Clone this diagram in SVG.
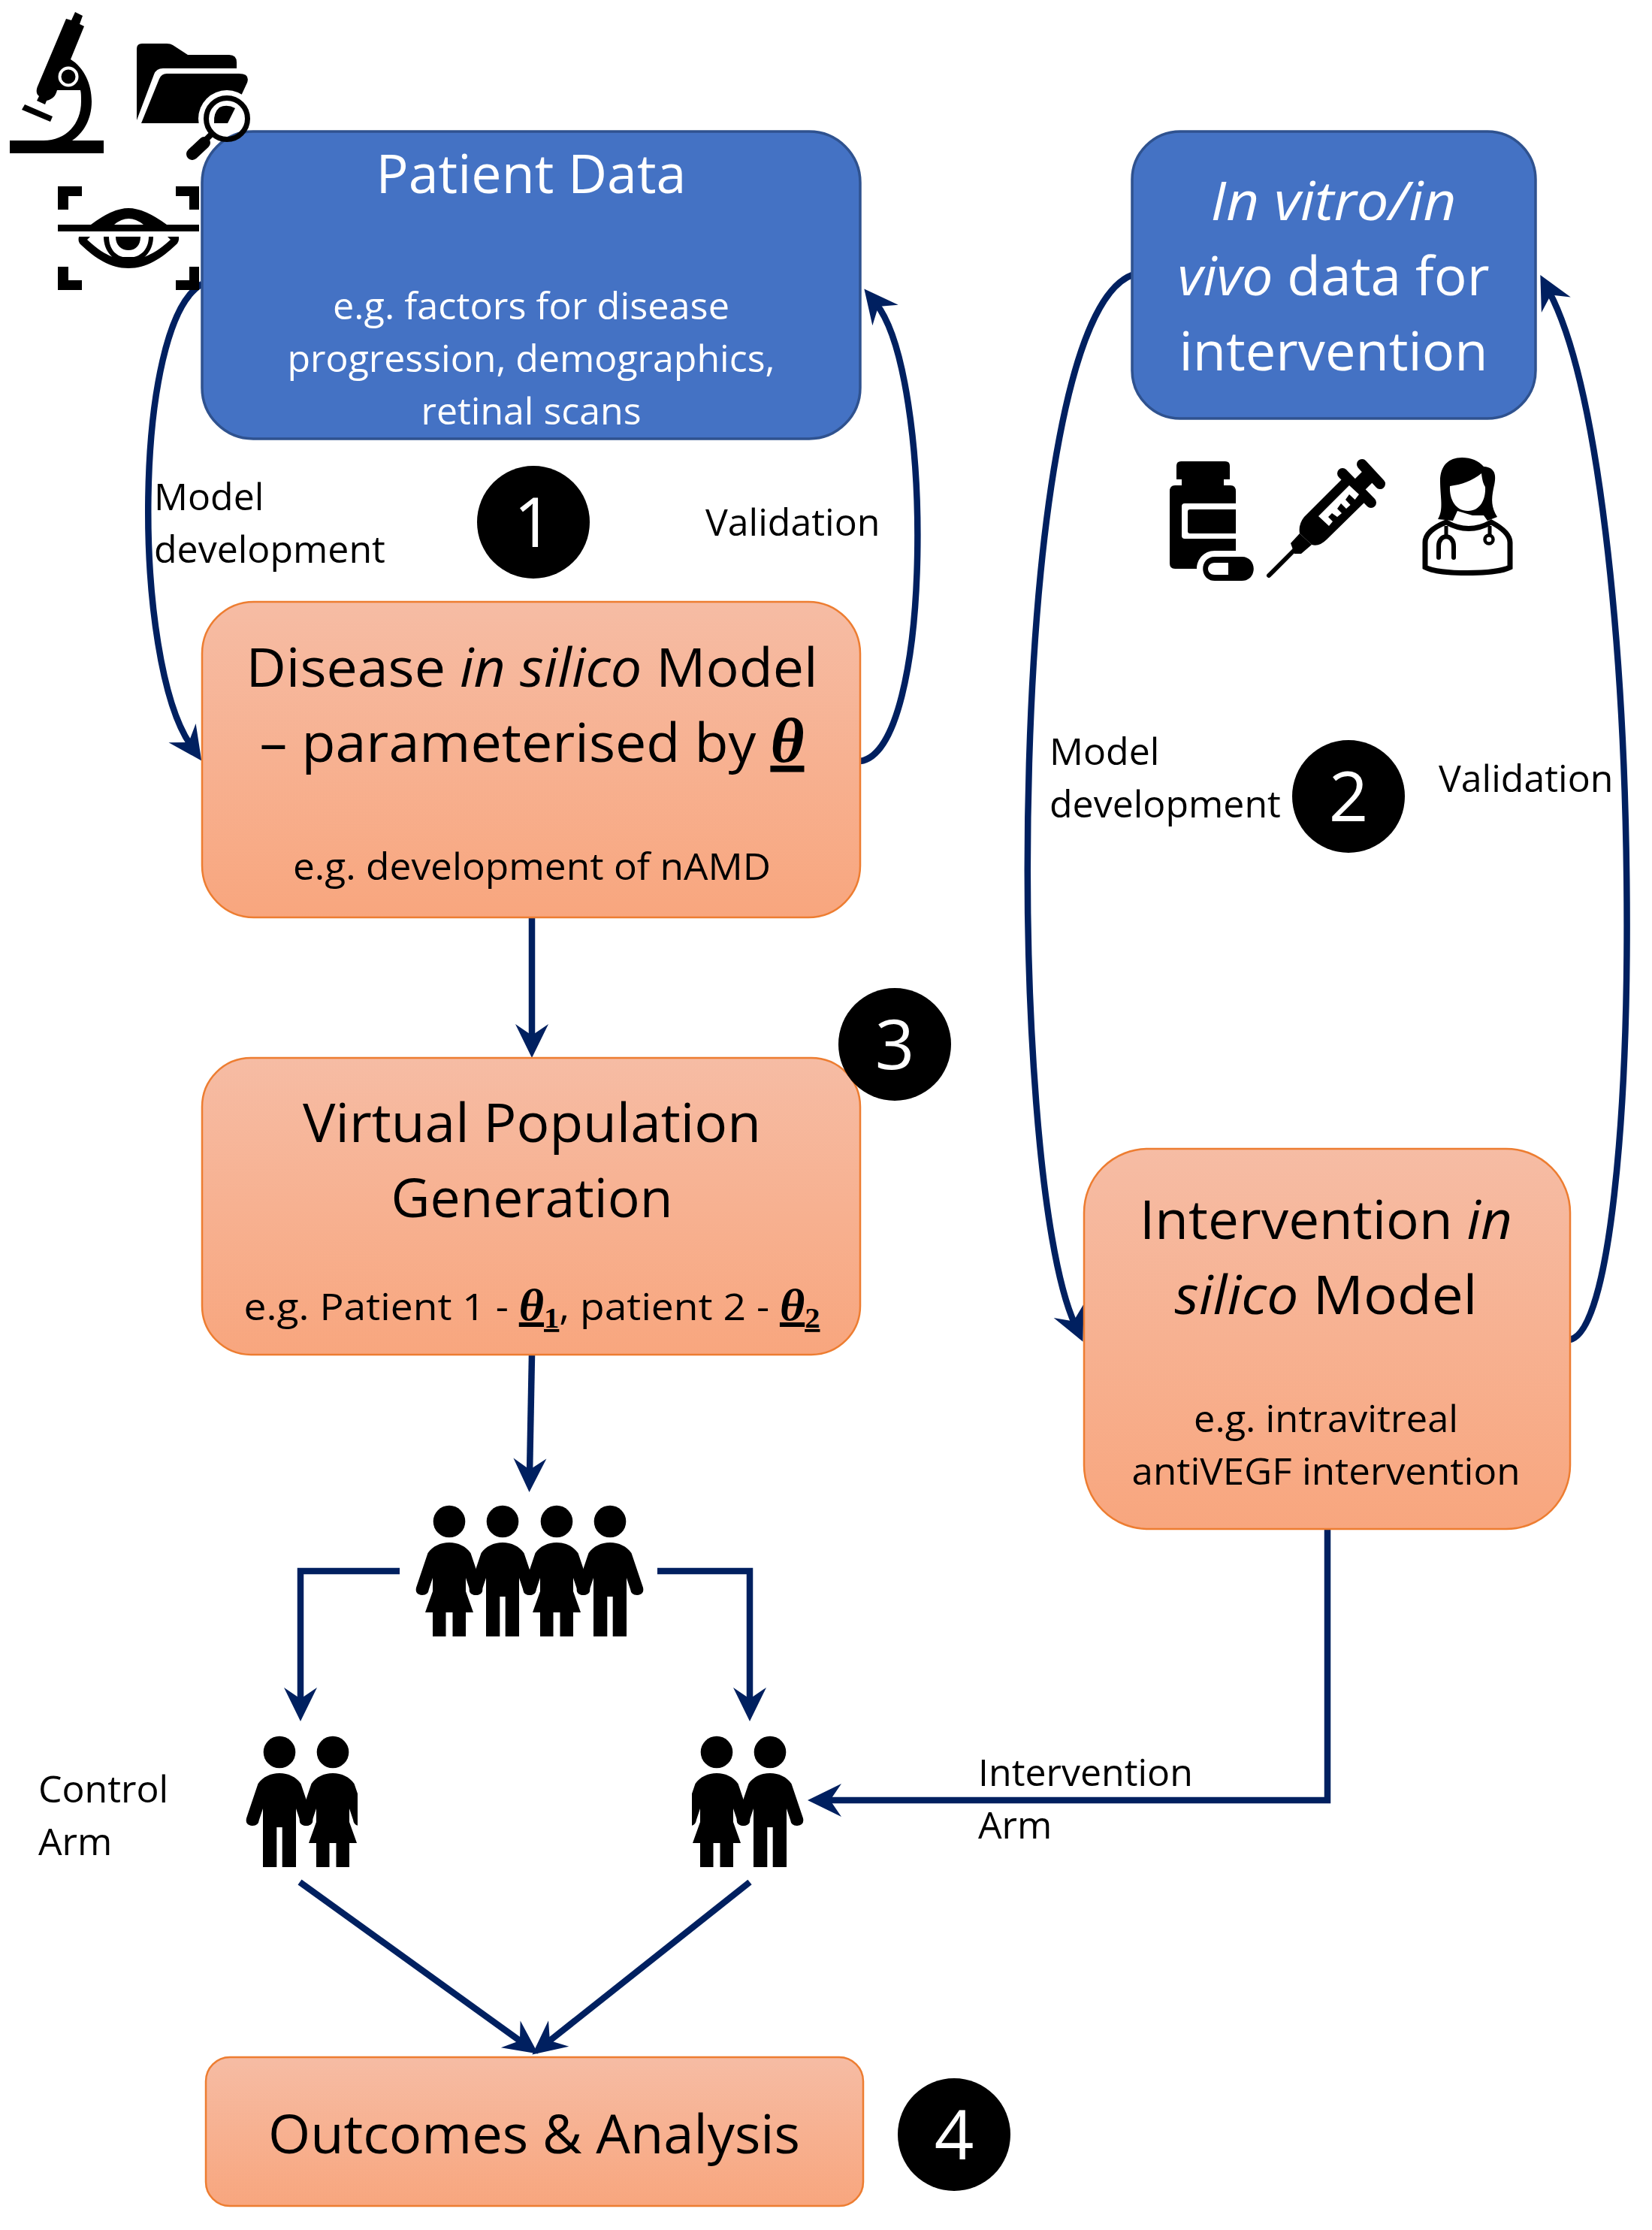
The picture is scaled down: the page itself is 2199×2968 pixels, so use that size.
<svg xmlns="http://www.w3.org/2000/svg" xmlns:xlink="http://www.w3.org/1999/xlink" width="2199" height="2968" viewBox="0 0 2199 2968">
<style>
text{font-family:"Open Sans","Noto Sans","Liberation Sans",sans-serif;fill:#000}
.t{font-size:72px;text-anchor:middle}
.s{font-size:50px;text-anchor:middle}
.l{font-size:50px}
.w{fill:#fff}
.o{fill:url(#og);stroke:#ED7D31;stroke-width:2.5}
.b{fill:#4472C4;stroke:#2F528F;stroke-width:3.5}
.c{fill:none;stroke:#002060;stroke-width:8.5;marker-end:url(#a)}
.th{font-family:"Liberation Serif","DejaVu Serif",serif;font-weight:bold;font-style:italic;text-decoration:underline}
.sb{font-size:38px;font-style:normal}
.n{font-size:92px;text-anchor:middle;fill:#fff}
</style>
<defs>
<linearGradient id="og" x1="0" y1="0" x2="0" y2="1"><stop offset="0" stop-color="#F6BCA4"/><stop offset="1" stop-color="#F8A67E"/></linearGradient>
<marker id="a" markerUnits="userSpaceOnUse" markerWidth="60" markerHeight="60" viewBox="-50 -30 60 60" refX="-25" refY="0" orient="auto"><path d="M0 0L-45 -22L-30 0L-45 22Z" fill="#002060"/></marker>
<mask id="halo" maskUnits="userSpaceOnUse" x="0" y="0" width="500" height="400"><rect width="500" height="400" fill="#fff"/><circle cx="302" cy="158" r="38" fill="#000"/></mask>
<clipPath id="cl1"><rect x="300" y="2290" width="176" height="210"/></clipPath>
<clipPath id="cl2"><rect x="921" y="2290" width="160" height="210"/></clipPath>
<g id="woman"><circle cx="0" cy="0" r="21.3"/><path d="M0 28C12 28 22 33 28.5 42L44 88Q46 97 36 98Q28 98 27 90L22 75L22 93L32 121L22 121L22 153L4.5 153L4.5 121L-4.5 121L-4.5 153L-22 153L-22 121L-32 121L-22 93L-22 75L-27 90Q-28 98 -36 98Q-46 97 -44 88L-28.5 42C-22 33 -12 28 0 28Z"/></g>
<g id="man"><circle cx="0" cy="0" r="21.3"/><path d="M0 28C12 28 22 33 28.5 42L44 88Q46 97 36 98Q28 98 27 90L22 75L22 153L3.7 153L3.7 100L-3.7 100L-3.7 153L-22 153L-22 75L-27 90Q-28 98 -36 98Q-46 97 -44 88L-28.5 42C-22 33 -12 28 0 28Z"/></g>
</defs>
<rect width="2199" height="2968" fill="#fff"/>

<g id="connectors">
<path class="c" d="M269 378C176 430 176 880 254 992"/>
<path class="c" d="M1145 1013C1243 1000 1243 500 1166 404"/>
<path class="c" d="M1507 366C1337 430 1337 1560 1431 1763"/>
<path class="c" d="M2090 1783C2195 1760 2195 640 2062 388"/>
<path class="c" d="M708 1221L708 1383"/>
<path class="c" d="M708 1803L705 1961"/>
<path class="c" d="M532 2091L400 2091L400 2266"/>
<path class="c" d="M875 2091L998 2091L998 2266"/>
<path class="c" d="M1767 2035L1767 2396L1100 2396"/>
<path class="c" d="M399 2505L696 2719"/>
<path class="c" d="M998 2505L728 2719"/>
</g>

<g id="icon-microscope">
<path d="M88 25L95 27L100 16L110 21L106 32L112 35L94 79C112 90 122 112 122 135C122 160 110 178 96 187L138 187L138 204L13 204L13 187L58 187C88 187 108 165 108 135C108 128 108 124 107 120L76 120C74 128 70 132 62 134L60 139L49 134L52 128C48 125 48 120 50 115Z"/>
<path d="M33 139L70 155L67 162L29 146Z"/>
<circle cx="91" cy="102" r="11.5" fill="#000" stroke="#fff" stroke-width="4"/>
</g>
<g id="icon-eye">
<path d="M77 248H109V261H91V279H77ZM234 248H265V279H252V261H234ZM77 355H91V373H109V386H77ZM252 355H265V386H234V373H252ZM77 299H121Q150 277 171 277Q192 277 222 299H265V308H77ZM152 299H191Q171 283 152 299Z" fill-rule="evenodd"/>
<path d="M105 315L120 315L116 319C130 332 140 338 150 342L192 342C202 338 213 332 227 319L223 315L238 315Q239 322 234 326C215 344 195 357 171 357C147 357 127 344 108 326Q103 322 105 315Z"/>
<path d="M138 315H145C145 332 155 343 171 343C187 343 198 332 198 315H204C204 335 190 350 171 350C152 350 138 335 138 315Z"/>
<path d="M154 315H187C187 327 180 333 171 333C162 333 154 327 154 315Z"/>
</g>

<g id="patient-data">
<rect class="b" x="269" y="175" width="876" height="409" rx="68"/>
<text class="t w" x="707" y="257" textLength="413" lengthAdjust="spacingAndGlyphs">Patient Data</text>
<text class="s w" x="707" y="425" textLength="528" lengthAdjust="spacingAndGlyphs">e.g. factors for disease</text>
<text class="s w" x="707" y="495" textLength="649" lengthAdjust="spacingAndGlyphs">progression, demographics,</text>
<text class="s w" x="707" y="565" textLength="293" lengthAdjust="spacingAndGlyphs">retinal scans</text>
</g>
<g id="icon-folder">
<g mask="url(#halo)">
<path d="M182 65Q182 58 189 58L222 58Q227 58 230 60L250 73L305 73Q315 73 315 83L315 91L217 91Q208 91 205 99L182 160Z"/>
<path d="M222 98L318 98Q333 98 329 110L304 164L188 164L212 105Q215 98 222 98Z"/>
</g>
<path d="M285 164L303 164L313 144Q302 138 292 143Q284 150 285 164Z"/>
<circle cx="302" cy="158" r="27.5" fill="none" stroke="#000" stroke-width="7"/>
<path d="M282 178L274 186" stroke="#000" stroke-width="8"/>
<path d="M272 190L256 205" stroke="#000" stroke-width="16" stroke-linecap="round"/>
</g>

<g id="disease-model">
<rect class="o" x="269" y="801" width="876" height="420" rx="69"/>
<text class="t" x="708" y="914" textLength="761" lengthAdjust="spacingAndGlyphs">Disease <tspan font-style="italic">in silico</tspan> Model</text>
<text class="t" x="708" y="1014" textLength="725" lengthAdjust="spacingAndGlyphs">– parameterised by <tspan class="th" font-size="85">θ</tspan></text>
<text class="s" x="708" y="1171" textLength="636" lengthAdjust="spacingAndGlyphs">e.g. development of nAMD</text>
</g>
<g id="virtual-population">
<rect class="o" x="269" y="1408" width="876" height="395" rx="65"/>
<text class="t" x="708" y="1520" textLength="610" lengthAdjust="spacingAndGlyphs">Virtual Population</text>
<text class="t" x="708" y="1620" textLength="375" lengthAdjust="spacingAndGlyphs">Generation</text>
<text class="s" x="708" y="1757" textLength="767" lengthAdjust="spacingAndGlyphs">e.g. Patient 1 - <tspan class="th" font-size="60">θ<tspan class="sb" dy="10">1</tspan></tspan><tspan dy="-10">, patient 2 - </tspan><tspan class="th" font-size="60">θ<tspan class="sb" dy="10">2</tspan></tspan></text>
</g>
<g id="outcomes">
<rect class="o" x="274" y="2738" width="875" height="198" rx="32"/>
<text class="t" x="711" y="2866" textLength="708" lengthAdjust="spacingAndGlyphs">Outcomes &amp; Analysis</text>
</g>
<g id="in-vitro-data">
<rect class="b" x="1507" y="175" width="537" height="382" rx="64"/>
<text class="t w" x="1775" y="293" textLength="327" lengthAdjust="spacingAndGlyphs"><tspan font-style="italic">In vitro/in</tspan></text>
<text class="t w" x="1775" y="393" textLength="415" lengthAdjust="spacingAndGlyphs"><tspan font-style="italic">vivo</tspan> data for</text>
<text class="t w" x="1775" y="493" textLength="411" lengthAdjust="spacingAndGlyphs">intervention</text>
</g>
<g id="intervention-model">
<rect class="o" x="1443" y="1529" width="647" height="506" rx="85"/>
<text class="t" x="1765" y="1649" textLength="496" lengthAdjust="spacingAndGlyphs">Intervention <tspan font-style="italic">in</tspan></text>
<text class="t" x="1765" y="1749" textLength="403" lengthAdjust="spacingAndGlyphs"><tspan font-style="italic">silico</tspan> Model</text>
<text class="s" x="1765" y="1906" textLength="352" lengthAdjust="spacingAndGlyphs">e.g. intravitreal</text>
<text class="s" x="1765" y="1976" textLength="517" lengthAdjust="spacingAndGlyphs">antiVEGF intervention</text>
</g>

<g id="icon-bottle" transform="translate(2 0)">
<path fill-rule="evenodd" d="M1570 614H1629Q1635 614 1635 620V638H1627V646H1636Q1643 646 1643 654V670H1575Q1571 670 1571 674V713Q1571 717 1575 717H1643V733H1615C1600 733 1591 745 1591 757H1562Q1555 757 1555 750V654Q1555 646 1562 646H1571V638H1564V620Q1564 614 1570 614Z"/>
<path d="M1582 678H1643V710H1582Q1579 710 1579 707V681Q1579 678 1582 678Z"/>
<path fill-rule="evenodd" d="M1615 741H1651C1672 741 1672 773 1651 773H1615C1594 773 1594 741 1615 741ZM1615 749C1603 749 1603 765 1615 765H1633V749Z"/>
</g>
<g id="icon-syringe">
<path d="M1689 766L1722 733" stroke="#000" stroke-width="6" stroke-linecap="round"/>
<path d="M1730 710L1718 723L1723 737L1732 737L1746 725Z"/>
<path d="M1787 637L1818 667L1766 718Q1756 728 1746 725L1730 710Q1728 698 1736 688Z"/>
<path d="M1787 630L1825 669" stroke="#000" stroke-width="14" stroke-linecap="round"/>
<path d="M1805 650L1827 628" stroke="#000" stroke-width="20"/>
<path d="M1813 618L1837 644" stroke="#000" stroke-width="14" stroke-linecap="round"/>
<path fill="#fff" d="M1796 646L1755 687L1769 700L1774 694L1768 688L1773 683L1780 688L1786 683L1780 677L1785 670L1792 677L1797.5 672L1791 665L1796 658L1803.6 665L1809 658Z"/>
</g>
<g id="icon-doctor">
<path d="M1925 695C1905 703 1897 712 1897 722L1897 755C1915 765 1990 765 2010 755L2010 722C2010 712 2000 703 1985 695Q1955 712 1925 695Z" fill="#fff" stroke="#000" stroke-width="7"/>
<path d="M1946 609C1928 609 1917 620 1917 640C1917 662 1922 678 1914 691L1934 693L1940 680L1960 686L1975 686L1980 693L1993 688C1985 675 1985 665 1988 650C1992 635 1992 622 1975 621C1968 613 1958 609 1946 609Z"/>
<path fill="#fff" d="M1930 647C1945 645 1960 640 1972 630C1973 640 1975 645 1977 648C1978 665 1970 680 1954 680C1938 680 1929 665 1930 647Z"/>
<path fill="#fff" d="M1941 686Q1954 692 1966 686L1968 695Q1954 700 1938 695Z"/>
<path d="M1925 700V712M1983 700V712" stroke="#000" stroke-width="5" fill="none"/>
<path d="M1915 742V727C1915 710 1935 710 1935 727V742" stroke="#000" stroke-width="6" fill="none" stroke-linecap="round"/>
<circle cx="1982" cy="718" r="5.5" fill="#fff" stroke="#000" stroke-width="4.5"/>
</g>

<g id="population"><use xlink:href="#woman" href="#woman" x="598" y="2025"/><use xlink:href="#man" href="#man" x="669" y="2025"/><use xlink:href="#woman" href="#woman" x="741" y="2025"/><use xlink:href="#man" href="#man" x="812" y="2025"/></g>
<g id="control-arm" clip-path="url(#cl1)"><use xlink:href="#man" href="#man" x="372" y="2332"/><use xlink:href="#woman" href="#woman" x="443" y="2332"/></g>
<g id="intervention-arm" clip-path="url(#cl2)"><use xlink:href="#woman" href="#woman" x="954" y="2332"/><use xlink:href="#man" href="#man" x="1025" y="2332"/></g>

<g id="labels">
<text class="l" x="205" y="679">Model</text>
<text class="l" x="205" y="749">development</text>
<text class="l" x="939" y="713">Validation</text>
<text class="l" x="1397" y="1018">Model</text>
<text class="l" x="1397" y="1088">development</text>
<text class="l" x="1915" y="1054">Validation</text>
<text class="l" x="51" y="2399">Control</text>
<text class="l" x="51" y="2469">Arm</text>
<text class="l" x="1302" y="2377">Intervention</text>
<text class="l" x="1302" y="2447">Arm</text>
</g>
<g id="step-1"><circle cx="710" cy="695" r="75"/><text class="n" x="710" y="728">1</text></g>
<g id="step-2"><circle cx="1795" cy="1060" r="75"/><text class="n" x="1795" y="1093">2</text></g>
<g id="step-3"><circle cx="1191" cy="1390" r="75"/><text class="n" x="1191" y="1423">3</text></g>
<g id="step-4"><circle cx="1270" cy="2841" r="75"/><text class="n" x="1270" y="2874">4</text></g>
</svg>
